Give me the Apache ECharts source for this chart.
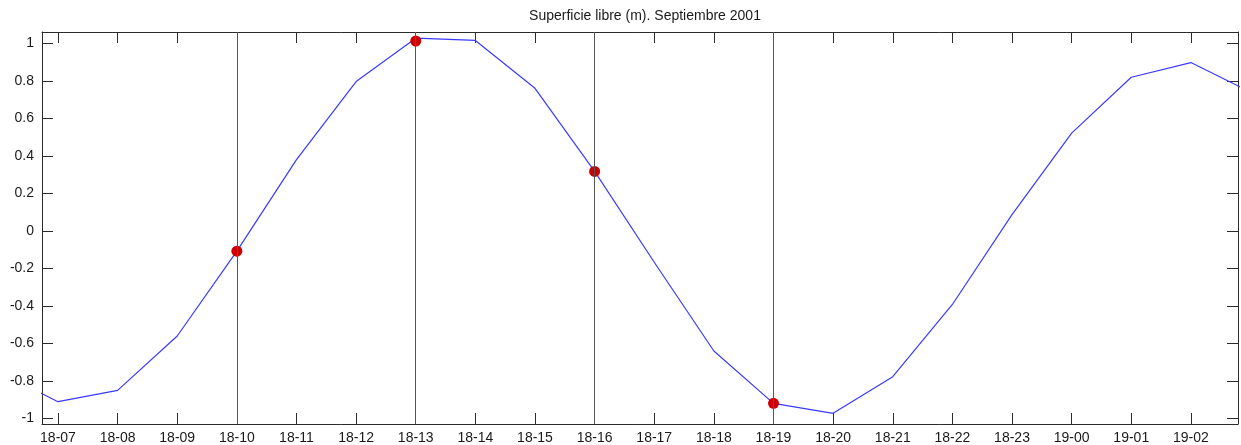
<!DOCTYPE html>
<html>
<head>
<meta charset="utf-8">
<script src="https://cdn.jsdelivr.net/npm/echarts@6/dist/echarts.min.js"></script>
<style>
  html, body { margin: 0; padding: 0; background: #fff; }
  #chart { width: 1241px; height: 445px; }
</style>
</head>
<body>
<div id="chart"></div>
<script>
// Free-surface elevation (m), hourly, from 18-06 to 19-03 (hours since 18-00)
const hours = [6, 7, 8, 9, 10, 11, 12, 13, 14, 15, 16, 17, 18, 19, 20, 21, 22, 23, 24, 25, 26, 27];
const elevation = [-0.75, -0.91, -0.85, -0.56, -0.108, 0.38, 0.796, 1.027, 1.015, 0.76, 0.317, -0.167,
                   -0.64, -0.919, -0.972, -0.777, -0.392, 0.087, 0.521, 0.819, 0.897, 0.74];

// Highlighted instants, marked with a dot and a vertical line
const markHours = [10, 13, 16, 19];
const markValues = [-0.108, 1.012, 0.317, -0.919];

// Axis ticks
const xTickHours = [7, 8, 9, 10, 11, 12, 13, 14, 15, 16, 17, 18, 19, 20, 21, 22, 23, 24, 25, 26];
const xTickLabels = ['18-07', '18-08', '18-09', '18-10', '18-11', '18-12', '18-13', '18-14', '18-15', '18-16',
                     '18-17', '18-18', '18-19', '18-20', '18-21', '18-22', '18-23', '19-00', '19-01', '19-02'];
const yTicks = [-1, -0.8, -0.6, -0.4, -0.2, 0, 0.2, 0.4, 0.6, 0.8, 1];
const yTickLabels = ['-1', '-0.8', '-0.6', '-0.4', '-0.2', '0', '0.2', '0.4', '0.6', '0.8', '1'];

const titleText = 'Superficie libre (m). Septiembre 2001';

const X_MIN = 6.732, X_MAX = 26.79;
const Y_MIN = -1.029, Y_MAX = 1.06;

const FONT = '"Liberation Sans", Arial, sans-serif';
const frame = { show: true, onZero: false, lineStyle: { color: '#2b2b2b', width: 1 } };
const inTick = (vals, len) => ({ show: true, inside: true, length: len, customValues: vals,
                                 lineStyle: { color: '#2b2b2b', width: 1 } });

const chart = echarts.init(document.getElementById('chart'), null, { renderer: 'canvas' });

chart.setOption({
  animation: false,
  backgroundColor: '#ffffff',
  title: {
    text: titleText,
    left: 640, top: 4, textAlign: 'center',
    textStyle: { fontFamily: FONT, fontSize: 14, fontWeight: 'normal', color: '#1a1a1a' }
  },
  grid: { left: 42, right: 3, top: 32, bottom: 20, containLabel: false },
  xAxis: [
    {
      type: 'value', position: 'bottom', min: X_MIN, max: X_MAX,
      axisLine: frame, splitLine: { show: false },
      axisTick: inTick(xTickHours, 11),
      axisLabel: {
        customValues: xTickHours, margin: 7,
        fontFamily: FONT, fontSize: 14, color: '#1a1a1a',
        formatter: v => xTickLabels[xTickHours.indexOf(Math.round(v))] || ''
      }
    },
    {
      type: 'value', position: 'top', min: X_MIN, max: X_MAX,
      axisLine: frame, splitLine: { show: false },
      axisTick: inTick(xTickHours, 11),
      axisLabel: { show: false }
    }
  ],
  yAxis: [
    {
      type: 'value', position: 'left', min: Y_MIN, max: Y_MAX,
      axisLine: frame, splitLine: { show: false },
      axisTick: inTick(yTicks, 11),
      axisLabel: {
        customValues: yTicks, margin: 8,
        fontFamily: FONT, fontSize: 14, color: '#1a1a1a',
        formatter: v => {
          const i = yTicks.findIndex(t => Math.abs(t - v) < 1e-6);
          return i >= 0 ? yTickLabels[i] : '';
        }
      }
    },
    {
      type: 'value', position: 'right', min: Y_MIN, max: Y_MAX,
      axisLine: frame, splitLine: { show: false },
      axisTick: inTick(yTicks, 11),
      axisLabel: { show: false }
    }
  ],
  series: [
    {
      name: 'elevation',
      type: 'line',
      xAxisIndex: 0, yAxisIndex: 0,
      data: hours.map((h, i) => [h, elevation[i]]),
      showSymbol: false,
      clip: true,
      lineStyle: { color: '#3a3aff', width: 1.2 },
      z: 3
    },
    {
      name: 'instants',
      type: 'scatter',
      xAxisIndex: 0, yAxisIndex: 0,
      data: markHours.map((h, i) => [h, markValues[i]]),
      symbol: 'circle', symbolSize: 11,
      itemStyle: { color: '#cc0000', opacity: 1 },
      z: 4,
      markLine: {
        silent: true, symbol: 'none', animation: false,
        label: { show: false },
        lineStyle: { color: '#555555', width: 1, type: 'solid' },
        data: markHours.map(h => ({ xAxis: h }))
      }
    }
  ]
});
</script>
</body>
</html>
